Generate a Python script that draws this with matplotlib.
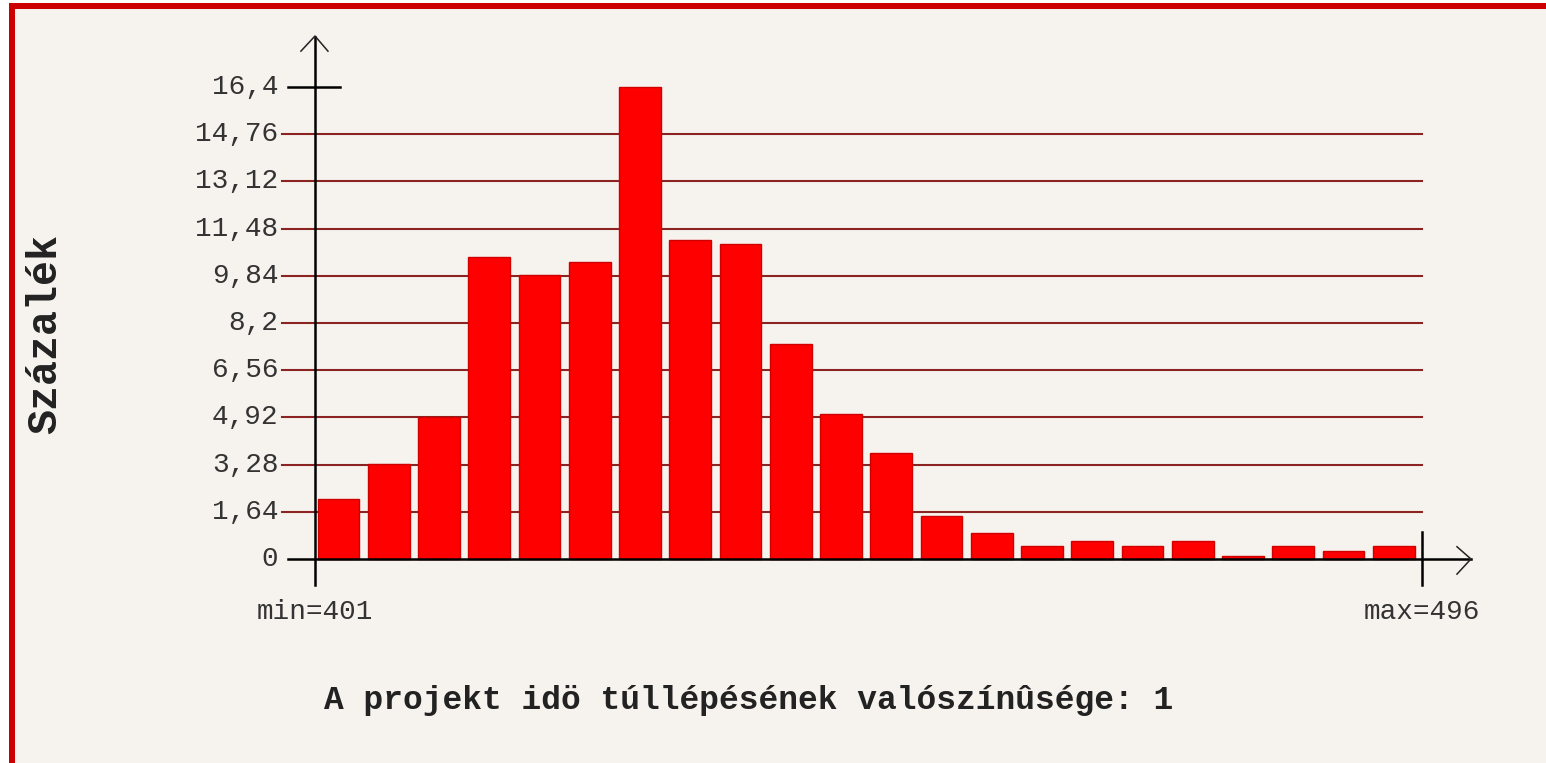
import matplotlib.pyplot as plt
from matplotlib.patches import Rectangle

# histogram of project duration, percent per bin (401 .. 496)
values = [2.10, 3.29, 4.95, 10.49, 9.87, 10.32, 16.4, 11.08, 10.94, 7.47, 5.05,
          3.67, 1.50, 0.89, 0.46, 0.64, 0.46, 0.64, 0.11, 0.46, 0.29, 0.46]
yticks = [0, 1.64, 3.28, 4.92, 6.56, 8.2, 9.84, 11.48, 13.12, 14.76, 16.4]
ytick_labels = ["0", "1,64", "3,28", "4,92", "6,56", "8,2", "9,84",
                "11,48", "13,12", "14,76", "16,4"]
min_label = "min=401"
max_label = "max=496"
y_label = "Százalék"
title = "A projekt idö túllépésének valószínûsége: 1"

bg = "#f6f3ee"
mono = ["Liberation Mono", "DejaVu Sans Mono"]

fig = plt.figure(figsize=(15.46, 7.63), dpi=100, facecolor="white")
fig.patches.append(Rectangle((9 / 1546, 0), 1, 1 - 3 / 763, transform=fig.transFigure,
                             facecolor=bg, edgecolor="none", zorder=-10))
# red frame (top and left)
fig.patches.append(Rectangle((9 / 1546, 1 - 9 / 763), 1, 6 / 763, transform=fig.transFigure,
                             facecolor="#cc0000", edgecolor="none"))
fig.patches.append(Rectangle((9 / 1546, 0), 6 / 1546, 1 - 3 / 763, transform=fig.transFigure,
                             facecolor="#cc0000", edgecolor="none"))

ax = fig.add_axes([315 / 1546, 1 - 559 / 763, 1107 / 1546, 472 / 763])
ax.set_facecolor("none")
ax.set_xlim(-0.468, 21.56)
ax.set_ylim(0, 16.4)
for s in ax.spines.values():
    s.set_visible(False)
ax.set_xticks([])
ax.set_yticks([])

ytr = ax.get_yaxis_transform()
# grid lines
for v in yticks[1:-1]:
    ax.plot([-0.0298, 1.0], [v, v], color="#8b2323", lw=1.5, transform=ytr,
            clip_on=False, zorder=1)
for v, lab in zip(yticks, ytick_labels):
    ax.text(-0.033, v, lab, transform=ytr, ha="right", va="center",
            family=mono, fontsize=20, color="#333333")

x = list(range(len(values)))
ax.bar(x, values, width=0.83, color="#ff0000", edgecolor="#d00000", lw=1,
       zorder=2, clip_on=False)

k = dict(color="black", lw=1.8, transform=ax.transAxes, clip_on=False, zorder=3)
a = dict(color="#222222", lw=1.1, transform=ax.transAxes, clip_on=False, zorder=3)
# y axis with arrow
ax.plot([0, 0], [-0.055, 1.105], **k)
ax.plot([-0.0127, 0, 0.0117], [1.076, 1.108, 1.076], **a)
ax.plot([-0.0244, 0.0226], [1.0, 1.0], **k)
# x axis with arrow
ax.plot([-0.0244, 1.044], [0, 0], **k)
ax.plot([1.0316, 1.0442, 1.0316], [0.026, 0, -0.032], **a)
ax.plot([1.0, 1.0], [0.057, -0.055], **k)

ax.text(0, -0.112, min_label, transform=ax.transAxes, ha="center", va="center",
        family=mono, fontsize=20, color="#333333")
ax.text(1.0, -0.112, max_label, transform=ax.transAxes, ha="center", va="center",
        family=mono, fontsize=20, color="#333333")

fig.text(45 / 1546, 1 - 334 / 763, y_label, rotation=90, ha="center", va="center",
         family=mono, fontsize=30, fontweight="bold", color="#222222")
fig.text(749 / 1546, 1 - 700 / 763, title, ha="center", va="center",
         family=mono, fontsize=23.7, fontweight="bold", color="#222222")

fig.savefig("out.png", dpi=100, facecolor=fig.get_facecolor())
